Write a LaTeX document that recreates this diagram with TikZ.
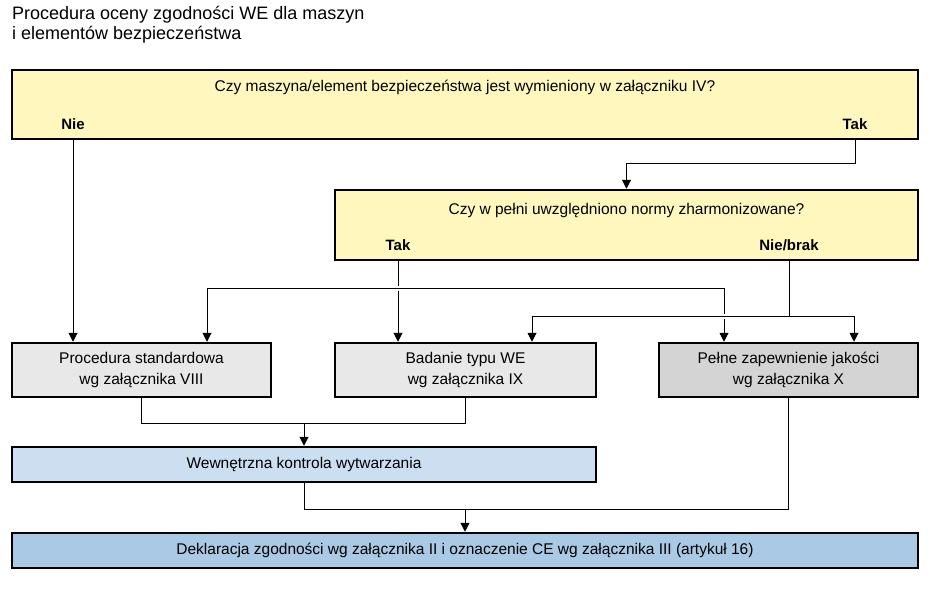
\documentclass[tikz,border=0pt]{standalone}
\usepackage{fontspec}
\setmainfont{Liberation Sans}
\usetikzlibrary{arrows.meta}
\definecolor{qyellow}{RGB}{255,247,190}
\definecolor{plight}{RGB}{232,232,232}
\definecolor{pdark}{RGB}{212,212,212}
\definecolor{blight}{RGB}{204,223,240}
\definecolor{bdark}{RGB}{170,201,229}
\tikzset{
	box/.style={draw, line width=2.5pt, inner sep=0pt},
	line/.style={line width=1pt},
	conn/.style={line width=1pt, -{Triangle[width=9pt,length=9pt]}},
	ans/.style={font=\bfseries\fontsize{15}{17}\selectfont},
	txt/.style={font=\fontsize{15.5}{21}\selectfont, align=center}
}
\begin{document}
\begin{tikzpicture}[x=1pt, y=-1pt]
			\useasboundingbox (0,0) rectangle (952,592);
			\node[anchor=base west, align=left, inner sep=0pt, font=\fontsize{18}{20}\selectfont] (title) at (12,39) {Procedura oceny zgodności WE dla maszyn\\i elementów bezpieczeństwa};
			\node[box, fill=qyellow, minimum width=906pt, minimum height=69pt] (q1) at (465,104.5) {};
			\node[txt] (q1txt) at (465,87) {Czy maszyna/element bezpieczeństwa jest wymieniony w załączniku IV?};
			\node[ans] (nie1) at (73,124) {Nie};
			\node[ans] (tak1) at (855,124) {Tak};
			\node[box, fill=qyellow, minimum width=583pt, minimum height=70pt] (q2) at (626.5,225) {};
			\node[txt] (q2txt) at (626.5,210) {Czy w pełni uwzględniono normy zharmonizowane?};
			\node[ans] (tak2) at (398,245) {Tak};
			\node[ans] (nb2) at (789,245) {Nie/brak};
			\node[box, fill=plight, minimum width=259pt, minimum height=54pt, txt] (proc) at (141.5,370) {Procedura standardowa\\wg załącznika VIII};
			\node[box, fill=plight, minimum width=261pt, minimum height=54pt, txt] (bad) at (465.5,370) {Badanie typu WE\\wg załącznika IX};
			\node[box, fill=pdark, minimum width=259pt, minimum height=54pt, txt] (pel) at (788.5,370) {Pełne zapewnienie jakości\\wg załącznika X};
			\node[box, fill=blight, minimum width=584pt, minimum height=35pt, txt] (wew) at (304,464.5) {Wewnętrzna kontrola wytwarzania};
			\node[box, fill=bdark, minimum width=906pt, minimum height=35pt, txt] (dek) at (465,550.5) {Deklaracja zgodności wg załącznika II i oznaczenie CE wg załącznika III (artykuł 16)};
			\coordinate (j1) at (855,163);
			\coordinate (hA) at (207,288);
			\coordinate (hB) at (724,288);
			\coordinate (hC) at (789,316);
			\coordinate (hC1) at (532,316);
			\coordinate (hC2) at (854,316);
			\coordinate (m1) at (304,423);
			\coordinate (m2) at (465,509);
			\draw[conn] (nie1 |- q1.south) -- (nie1 |- proc.north);
			\draw[conn] (tak1 |- q1.south) -- (j1) -| (q2.north);
			\draw[line, shorten >=2.5pt] (tak2 |- q2.south) -- (tak2 |- hA);
			\draw[conn, shorten <=2.5pt] (tak2 |- hA) -- (tak2 |- bad.north);
			\draw[conn] (hA) -- (hA |- proc.north);
			\draw[line, shorten >=2.5pt] (hA) -- (hB) -- (hB |- hC);
			\draw[conn, shorten <=2.5pt] (hB |- hC) -- (hB |- pel.north);
			\draw[line] (nb2 |- q2.south) -- (hC);
			\draw[{Triangle[width=9pt,length=9pt]}-{Triangle[width=9pt,length=9pt]}, line width=1pt] (hC1 |- bad.north) -- (hC1) -- (hC2) -- (hC2 |- pel.north);
			\draw[line] (proc.south) |- (bad.south |- m1) -- (bad.south);
			\draw[conn] (m1) -- (wew.north);
			\draw[line] (wew.south) |- (pel.south |- m2) -- (pel.south);
			\draw[conn] (m2) -- (dek.north);
		\end{tikzpicture}
\end{document}
